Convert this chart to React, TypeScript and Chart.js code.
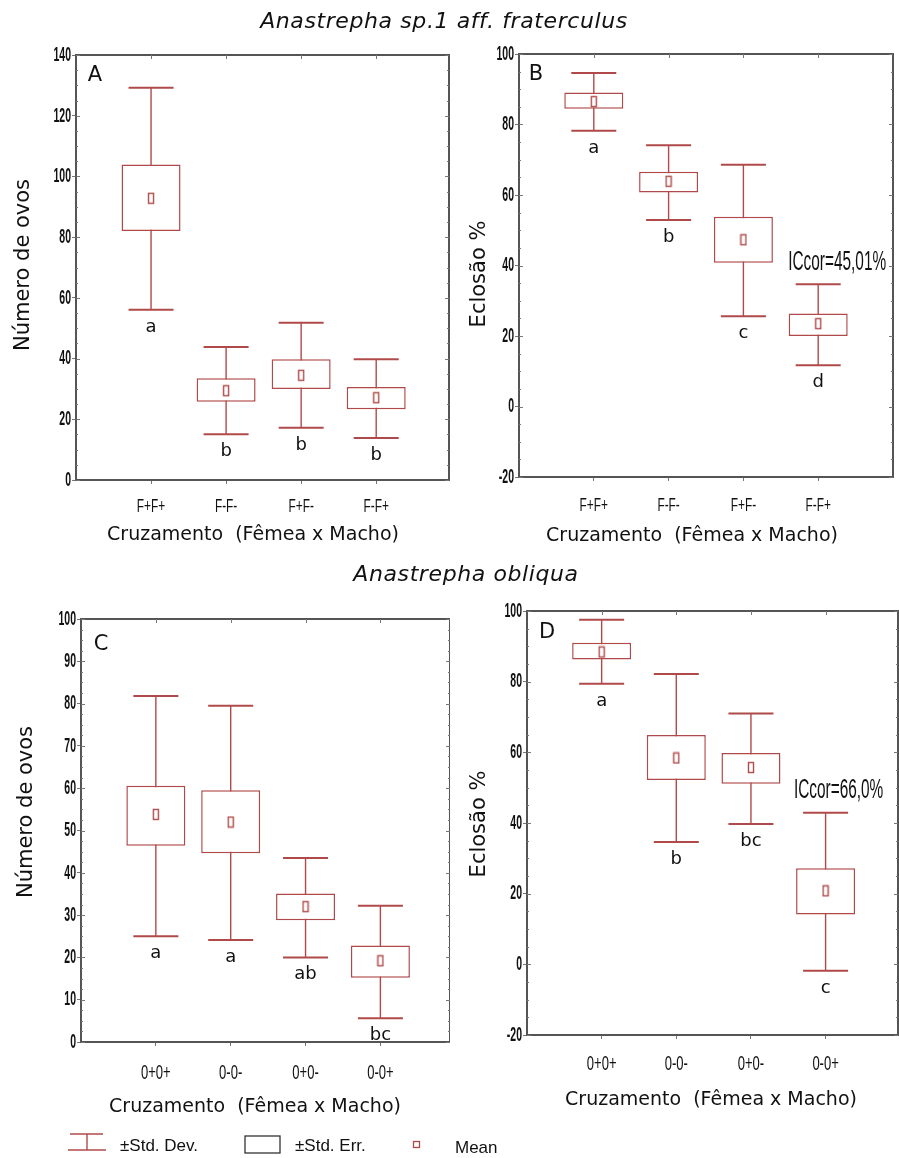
import React, { useEffect, useRef } from 'react';
import { Chart, registerables } from 'chart.js';

Chart.register(...registerables);

const RED = '#b04a4a';
const FRAME = '#555555';
const INK = '#111111';
const SANS = '"DejaVu Sans", Verdana, sans-serif';
const NARROW = '"Liberation Sans", Arial, sans-serif';

// ---------------- Data ----------------
const categoriesF = ['F+F+', 'F-F-', 'F+F-', 'F-F+'];
const categoriesO = ['0+0+', '0-0-', '0+0-', '0-0+'];

// Panel A – Número de ovos (A. sp.1 aff. fraterculus)
const sdHighA = [129.2, 43.8, 51.8, 39.8];
const seHighA = [103.9, 33.5, 39.8, 30.6];
const meanA = [92.8, 29.4, 34.5, 27.1];
const seLowA = [82.0, 25.8, 30.0, 23.3];
const sdLowA = [56.1, 15.1, 17.2, 13.8];
const lettersA = ['a', 'b', 'b', 'b'];
const yTicksA = [0, 20, 40, 60, 80, 100, 120, 140];

// Panel B – Eclosão % (A. sp.1 aff. fraterculus)
const sdHighB = [94.6, 74.1, 68.6, 34.7];
const seHighB = [89.1, 66.6, 53.8, 26.4];
const meanB = [86.5, 63.9, 47.3, 23.5];
const seLowB = [84.5, 60.7, 40.8, 20.0];
const sdLowB = [78.2, 52.9, 25.6, 11.7];
const lettersB = ['a', 'b', 'c', 'd'];
const yTicksB = [-20, 0, 20, 40, 60, 80, 100];
const noteB = 'ICcor=45,01%';

// Panel C – Número de ovos (A. obliqua)
const sdHighC = [81.8, 79.5, 43.5, 32.2];
const seHighC = [60.6, 59.5, 35.1, 22.8];
const meanC = [53.8, 52.0, 32.0, 19.2];
const seLowC = [46.4, 44.6, 28.8, 15.2];
const sdLowC = [25.0, 24.1, 20.0, 5.6];
const lettersC = ['a', 'a', 'ab', 'bc'];
const yTicksC = [0, 10, 20, 30, 40, 50, 60, 70, 80, 90, 100];

// Panel D – Eclosão % (A. obliqua)
const sdHighD = [97.5, 82.2, 71.0, 42.9];
const seHighD = [91.0, 64.9, 59.8, 27.2];
const meanD = [88.4, 58.4, 55.7, 20.8];
const seLowD = [86.3, 52.2, 51.1, 14.1];
const sdLowD = [79.4, 34.6, 39.7, -1.8];
const lettersD = ['a', 'b', 'bc', 'c'];
const yTicksD = [-20, 0, 20, 40, 60, 80, 100];
const noteD = 'ICcor=66,0%';

const titleTop = 'Anastrepha sp.1 aff. fraterculus';
const titleBottom = 'Anastrepha obliqua';
const yTitleOvos = 'Número de ovos';
const yTitleEclosao = 'Eclosão %';
const xTitle = 'Cruzamento  (Fêmea x Macho)';
const legendDev = '±Std. Dev.';
const legendErr = '±Std. Err.';
const legendMean = 'Mean';

// ---------------- Layout (page coordinates) ----------------
const panels = [
  {
    key: 'A', categories: categoriesF, sdHigh: sdHighA, seHigh: seHighA, mean: meanA, seLow: seLowA, sdLow: sdLowA,
    letters: lettersA, yTicks: yTicksA, yTitle: yTitleOvos, note: null,
    rect: { x: 0, y: 0, w: 450, h: 560 }, area: { l: 76, t: 55, r: 449, b: 480 }, xMax: 4.97,
    xTick: { size: 18, sx: 0.66, dy: 27 }, label: { x: 95, y: 76 }, yT: { x: 24, y: 265 }, xT: { x: 253, y: 535 }, noteDx: 0,
  },
  {
    key: 'B', categories: categoriesF, sdHigh: sdHighB, seHigh: seHighB, mean: meanB, seLow: seLowB, sdLow: sdLowB,
    letters: lettersB, yTicks: yTicksB, yTitle: yTitleEclosao, note: noteB,
    rect: { x: 450, y: 0, w: 449, h: 560 }, area: { l: 519, t: 54, r: 893, b: 477 }, xMax: 5,
    xTick: { size: 18, sx: 0.66, dy: 29 }, label: { x: 536, y: 75 }, yT: { x: 480, y: 274 }, xT: { x: 692, y: 536 }, noteDx: 19,
  },
  {
    key: 'C', categories: categoriesO, sdHigh: sdHighC, seHigh: seHighC, mean: meanC, seLow: seLowC, sdLow: sdLowC,
    letters: lettersC, yTicks: yTicksC, yTitle: yTitleOvos, note: null,
    rect: { x: 0, y: 560, w: 450, h: 598 }, area: { l: 81, t: 619, r: 451, b: 1042 }, xMax: 4.93,
    xTick: { size: 21, sx: 0.62, dy: 31 }, label: { x: 101, y: 645 }, yT: { x: 27, y: 812 }, xT: { x: 255, y: 1107 }, noteDx: 0,
  },
  {
    key: 'D', categories: categoriesO, sdHigh: sdHighD, seHigh: seHighD, mean: meanD, seLow: seLowD, sdLow: sdLowD,
    letters: lettersD, yTicks: yTicksD, yTitle: yTitleEclosao, note: noteD,
    rect: { x: 450, y: 560, w: 449, h: 598 }, area: { l: 527, t: 611, r: 898, b: 1035 }, xMax: 4.97,
    xTick: { size: 21, sx: 0.62, dy: 29 }, label: { x: 547, y: 633 }, yT: { x: 480, y: 824 }, xT: { x: 711, y: 1100 }, noteDx: 13,
  },
];

function narrowText(ctx, text, x, y, size, sx, align, weight = 'normal') {
  ctx.save();
  ctx.translate(x, y);
  ctx.scale(sx, 1);
  ctx.font = `${weight} ${size}px ${NARROW}`;
  ctx.fillStyle = INK;
  ctx.textAlign = align;
  ctx.textBaseline = 'middle';
  ctx.fillText(text, 0, 0);
  ctx.restore();
}

function makeMeanMarker() {
  const c = document.createElement('canvas');
  c.width = 8;
  c.height = 13;
  const g = c.getContext('2d');
  g.fillStyle = '#ffffff';
  g.fillRect(1.5, 1.5, 5, 10);
  g.strokeStyle = RED;
  g.lineWidth = 1.4;
  g.strokeRect(1.5, 1.5, 5, 10);
  return c;
}

function Panel({ P }) {
  const ref = useRef(null);
  useEffect(() => {
    const { rect, area } = P;
    const ox = rect.x;
    const oy = rect.y;
    const idx = P.categories.map((_, i) => i + 1);
    const decor = {
      id: 'decor',
      afterDraw(chart) {
        const ctx = chart.ctx;
        const { left, right, top, bottom } = chart.chartArea;
        const xs = chart.scales.x;
        const ys = chart.scales.y;
        ctx.save();
        // frame
        ctx.strokeStyle = FRAME;
        ctx.lineWidth = 2;
        ctx.strokeRect(left, top, right - left, bottom - top);
        // inner ticks
        ctx.strokeStyle = '#777';
        ctx.lineWidth = 1;
        const step = P.yTicks[1] - P.yTicks[0];
        for (let v = P.yTicks[0]; v <= P.yTicks[P.yTicks.length - 1] + 1e-9; v += step / 4) {
          const py = Math.round(ys.getPixelForValue(v)) + 0.5;
          const major = Math.abs((v - P.yTicks[0]) / step - Math.round((v - P.yTicks[0]) / step)) < 1e-6;
          const len = major ? 4 : 2;
          ctx.beginPath();
          ctx.moveTo(left, py); ctx.lineTo(left + len, py);
          ctx.moveTo(right, py); ctx.lineTo(right - len, py);
          ctx.stroke();
        }
        idx.forEach((v) => {
          const px = Math.round(xs.getPixelForValue(v)) + 0.5;
          ctx.beginPath();
          ctx.moveTo(px, top); ctx.lineTo(px, top + 4);
          ctx.stroke();
        });
        // y tick labels
        P.yTicks.forEach((v) => narrowText(ctx, String(v), left - 5, ys.getPixelForValue(v), 21, 0.5, 'right', 'bold'));
        // x tick labels
        P.categories.forEach((c, i) =>
          narrowText(ctx, c, xs.getPixelForValue(i + 1), bottom + P.xTick.dy, P.xTick.size, P.xTick.sx, 'center'));
        // significance letters
        ctx.font = `18px ${SANS}`;
        ctx.fillStyle = INK;
        ctx.textAlign = 'center';
        ctx.textBaseline = 'alphabetic';
        P.letters.forEach((t, i) => ctx.fillText(t, xs.getPixelForValue(i + 1), ys.getPixelForValue(P.sdLow[i]) + 22));
        // ICcor note above last category
        if (P.note) {
          const last = P.categories.length - 1;
          narrowText(ctx, P.note, xs.getPixelForValue(last + 1) + P.noteDx, ys.getPixelForValue(P.sdHigh[last]) - 22, 27, 0.57, 'center');
        }
        // panel label
        ctx.font = `21px ${SANS}`;
        ctx.fillStyle = INK;
        ctx.textAlign = 'center';
        ctx.textBaseline = 'middle';
        ctx.fillText(P.key, P.label.x - ox, P.label.y - oy);
        // x title
        ctx.font = `19px ${SANS}`;
        ctx.fillText(xTitle, P.xT.x - ox, P.xT.y - oy);
        // y title
        ctx.save();
        ctx.translate(P.yT.x - ox, P.yT.y - oy);
        ctx.rotate(-Math.PI / 2);
        ctx.font = `21px ${SANS}`;
        ctx.fillText(P.yTitle, 0, 0);
        ctx.restore();
        ctx.restore();
      },
    };

    const chart = new Chart(ref.current, {
      type: 'bar',
      data: {
        datasets: [
          {
            type: 'scatter',
            label: legendMean,
            data: idx.map((x, i) => ({ x, y: P.mean[i] })),
            pointStyle: makeMeanMarker(),
            pointRadius: 5,
            order: 0,
          },
          {
            type: 'scatter',
            label: 'caps',
            data: [
              ...idx.map((x, i) => ({ x, y: P.sdHigh[i] })),
              ...idx.map((x, i) => ({ x, y: P.sdLow[i] })),
            ],
            pointStyle: 'line',
            pointRadius: 22.5,
            pointBorderColor: RED,
            pointBorderWidth: 2,
            order: 1,
          },
          {
            type: 'bar',
            label: legendErr,
            data: idx.map((x, i) => ({ x, y: [P.seLow[i], P.seHigh[i]] })),
            backgroundColor: '#ffffff',
            borderColor: RED,
            borderWidth: 1.5,
            borderSkipped: false,
            barThickness: 59,
            grouped: false,
            inflateAmount: 0,
            order: 2,
          },
          {
            type: 'bar',
            label: legendDev,
            data: idx.map((x, i) => ({ x, y: [P.sdLow[i], P.sdHigh[i]] })),
            backgroundColor: RED,
            borderWidth: 0,
            barThickness: 1.4,
            grouped: false,
            inflateAmount: 0,
            order: 3,
          },
        ],
      },
      options: {
        responsive: false,
        animation: false,
        events: [],
        layout: {
          autoPadding: false,
          padding: {
            left: area.l - rect.x,
            top: area.t - rect.y,
            right: rect.x + rect.w - area.r,
            bottom: rect.y + rect.h - area.b,
          },
        },
        plugins: { legend: { display: false }, tooltip: { enabled: false }, title: { display: false } },
        scales: {
          x: {
            type: 'linear',
            offset: false,
            min: 0,
            max: P.xMax,
            afterBuildTicks: (s) => { s.ticks = idx.map((v) => ({ value: v })); },
            afterFit: (s) => { s.height = 0; },
            ticks: { display: false },
            grid: { offset: false, drawOnChartArea: false, drawTicks: true, tickLength: 4, color: '#777' },
            border: { display: true, color: FRAME, width: 2 },
          },
          y: {
            type: 'linear',
            min: P.yTicks[0],
            max: P.yTicks[P.yTicks.length - 1],
            afterBuildTicks: (s) => { s.ticks = P.yTicks.map((v) => ({ value: v })); },
            afterFit: (s) => { s.width = 0; },
            ticks: { display: false },
            grid: { drawOnChartArea: false, drawTicks: true, tickLength: 4, color: '#777' },
            border: { display: true, color: FRAME, width: 2 },
          },
        },
      },
      plugins: [decor],
    });
    return () => chart.destroy();
  }, [P]);
  return (
    <canvas
      ref={ref}
      width={P.rect.w}
      height={P.rect.h}
      style={{ position: 'absolute', left: P.rect.x, top: P.rect.y, width: P.rect.w, height: P.rect.h }}
    />
  );
}

const titleStyle = {
  position: 'absolute' as const,
  transform: 'translateX(-50%)',
  whiteSpace: 'nowrap' as const,
  fontFamily: SANS,
  fontStyle: 'italic',
  fontSize: 22,
  lineHeight: '22px',
  letterSpacing: '0.6px',
  color: INK,
};

const legendText = {
  position: 'absolute' as const,
  fontFamily: NARROW,
  fontSize: 17,
  lineHeight: '17px',
  color: INK,
  whiteSpace: 'nowrap' as const,
};

export default function App() {
  useEffect(() => {
    document.body.style.margin = '0';
  }, []);
  return (
    <div style={{ position: 'relative', width: 899, height: 1158, background: '#fff', overflow: 'hidden' }}>
      {panels.map((P) => (
        <Panel key={P.key} P={P} />
      ))}
      <div style={{ ...titleStyle, left: 444, top: 10 }}>{titleTop}</div>
      <div style={{ ...titleStyle, left: 466, top: 563 }}>{titleBottom}</div>
      {/* legend */}
      <svg style={{ position: 'absolute', left: 66, top: 1131 }} width={42} height={22}>
        <line x1={4} y1={3} x2={37} y2={3} stroke={RED} strokeWidth={1.6} />
        <line x1={21} y1={3} x2={21} y2={19} stroke={RED} strokeWidth={1.4} />
        <line x1={2} y1={19} x2={40} y2={19} stroke={RED} strokeWidth={1.6} />
      </svg>
      <div style={{ ...legendText, left: 120, top: 1137 }}>{legendDev}</div>
      <svg style={{ position: 'absolute', left: 243, top: 1134 }} width={40} height={22}>
        <rect x={2} y={2} width={35} height={17} fill="#fff" stroke="#333" strokeWidth={1.3} />
      </svg>
      <div style={{ ...legendText, left: 295, top: 1137 }}>{legendErr}</div>
      <svg style={{ position: 'absolute', left: 412, top: 1140 }} width={10} height={10}>
        <rect x={1.5} y={1.5} width={6} height={6} fill="#fff" stroke={RED} strokeWidth={1.3} />
      </svg>
      <div style={{ ...legendText, left: 455, top: 1139 }}>{legendMean}</div>
    </div>
  );
}
